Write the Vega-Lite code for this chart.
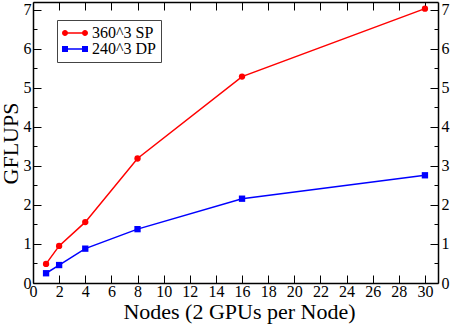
{
  "$schema": "https://vega.github.io/schema/vega-lite/v6.json",
  "width": 405,
  "height": 281,
  "autosize": {"type": "none"},
  "padding": {"left": 33, "top": 2, "right": 14, "bottom": 44},
  "config": {
    "view": {"stroke": null},
    "font": "Liberation Serif",
    "axis": {
      "grid": false,
      "domainColor": "black",
      "domainWidth": 1.5,
      "tickColor": "black",
      "tickWidth": 1,
      "labelColor": "black",
      "labelFont": "Liberation Serif",
      "labelFontSize": 16,
      "titleFont": "Liberation Serif",
      "titleFontSize": 22,
      "titleFontWeight": "normal",
      "titleColor": "black"
    },
    "legend": {
      "labelFont": "Liberation Serif",
      "labelFontSize": 16,
      "labelColor": "black"
    }
  },
  "data": {
    "values": [
      {"nodes": 1, "gflups": 0.49, "series": "360^3 SP"},
      {"nodes": 2, "gflups": 0.95, "series": "360^3 SP"},
      {"nodes": 4, "gflups": 1.56, "series": "360^3 SP"},
      {"nodes": 8, "gflups": 3.19, "series": "360^3 SP"},
      {"nodes": 16, "gflups": 5.29, "series": "360^3 SP"},
      {"nodes": 30, "gflups": 7.03, "series": "360^3 SP"},
      {"nodes": 1, "gflups": 0.25, "series": "240^3 DP"},
      {"nodes": 2, "gflups": 0.46, "series": "240^3 DP"},
      {"nodes": 4, "gflups": 0.88, "series": "240^3 DP"},
      {"nodes": 8, "gflups": 1.38, "series": "240^3 DP"},
      {"nodes": 16, "gflups": 2.16, "series": "240^3 DP"},
      {"nodes": 30, "gflups": 2.76, "series": "240^3 DP"}
    ]
  },
  "layer": [
    {
      "mark": {"type": "line", "strokeWidth": 1.5, "point": {"filled": true, "size": 40, "opacity": 1}},
      "encoding": {
        "x": {
          "field": "nodes", "type": "quantitative",
          "scale": {"domain": [0, 31], "nice": false, "zero": false},
          "axis": {
            "orient": "bottom",
            "title": "Nodes (2 GPUs per Node)",
            "values": [0, 2, 4, 6, 8, 10, 12, 14, 16, 18, 20, 22, 24, 26, 28, 30],
            "tickSize": -8,
            "labelPadding": 8,
            "labelFlush": false,
            "labelOverlap": false,
            "titleBaseline": "alphabetic",
            "titleY": 35,
            "titleX": 206
          }
        },
        "y": {
          "field": "gflups", "type": "quantitative",
          "scale": {"domain": [0, 7.2], "nice": false},
          "axis": {
            "orient": "left",
            "title": "GFLUPS",
            "values": [0, 0.5, 1, 1.5, 2, 2.5, 3, 3.5, 4, 4.5, 5, 5.5, 6, 6.5, 7],
            "labelExpr": "datum.value % 1 === 0 ? format(datum.value, 'd') : ''",
            "tickSize": {"condition": {"test": "datum.value % 1 !== 0", "value": -4}, "value": -8},
            "labelPadding": 10,
            "labelFlush": false,
            "labelOverlap": false,
            "titleBaseline": "alphabetic",
            "titleX": -16,
            "titleY": 141,
            "titleAngle": -90
          }
        },
        "color": {
          "field": "series", "type": "nominal",
          "scale": {"domain": ["360^3 SP", "240^3 DP"], "range": ["#ff0000", "#0000ff"]},
          "legend": null
        },
        "shape": {
          "field": "series", "type": "nominal",
          "scale": {"domain": ["360^3 SP", "240^3 DP"], "range": ["circle", "square"]},
          "legend": null
        }
      }
    },
    {
      "mark": {"type": "point", "filled": true, "opacity": 0},
      "encoding": {
        "x": {
          "field": "nodes", "type": "quantitative",
          "axis": {
            "orient": "top",
            "title": null,
            "labels": false,
            "values": [0, 2, 4, 6, 8, 10, 12, 14, 16, 18, 20, 22, 24, 26, 28, 30],
            "tickSize": -8
          }
        },
        "y": {
          "field": "gflups", "type": "quantitative",
          "axis": {
            "orient": "right",
            "title": null,
            "values": [0, 0.5, 1, 1.5, 2, 2.5, 3, 3.5, 4, 4.5, 5, 5.5, 6, 6.5, 7],
            "labelExpr": "datum.value % 1 === 0 ? format(datum.value, 'd') : ''",
            "tickSize": {"condition": {"test": "datum.value % 1 !== 0", "value": -4}, "value": -8},
            "labelPadding": 11,
            "labelFlush": false,
            "labelOverlap": false
          }
        },
        "color": {
          "field": "series", "type": "nominal",
          "scale": {"domain": ["360^3 SP", "240^3 DP"], "range": ["#ff0000", "#0000ff"]},
          "legend": {
            "orient": "none",
            "legendX": 24,
            "legendY": 18,
            "title": null,
            "strokeColor": "#444444",
            "fillColor": "white",
            "padding": 5,
            "rowPadding": 0,
            "symbolSize": 100,
            "symbolOpacity": 1,
            "symbolStrokeWidth": 0,
            "symbolOffset": 5,
            "labelOffset": 9,
            "labelExpr": "datum.label + '\u00a0\u00a0'"
          }
        },
        "shape": {
          "field": "series", "type": "nominal",
          "scale": {
            "domain": ["360^3 SP", "240^3 DP"],
            "range": [
              "M-2,-0.15H2V0.15H-2ZM-2.6,0A0.6,0.6,0,1,1,-1.4,0A0.6,0.6,0,1,1,-2.6,0ZM1.4,0A0.6,0.6,0,1,1,2.6,0A0.6,0.6,0,1,1,1.4,0Z",
              "M-2,-0.15H2V0.15H-2ZM-2.6,-0.6H-1.4V0.6H-2.6ZM1.4,-0.6H2.6V0.6H1.4Z"
            ]
          },
          "legend": {
            "orient": "none",
            "legendX": 24,
            "legendY": 18,
            "title": null,
            "strokeColor": "#444444",
            "fillColor": "white",
            "padding": 5,
            "rowPadding": 0,
            "symbolSize": 100,
            "symbolOpacity": 1,
            "symbolStrokeWidth": 0,
            "symbolOffset": 5,
            "labelOffset": 9,
            "labelExpr": "datum.label + '\u00a0\u00a0'"
          }
        }
      }
    }
  ],
  "resolve": {
    "axis": {"x": "independent", "y": "independent"},
    "scale": {"color": "independent", "shape": "independent"}
  }
}
